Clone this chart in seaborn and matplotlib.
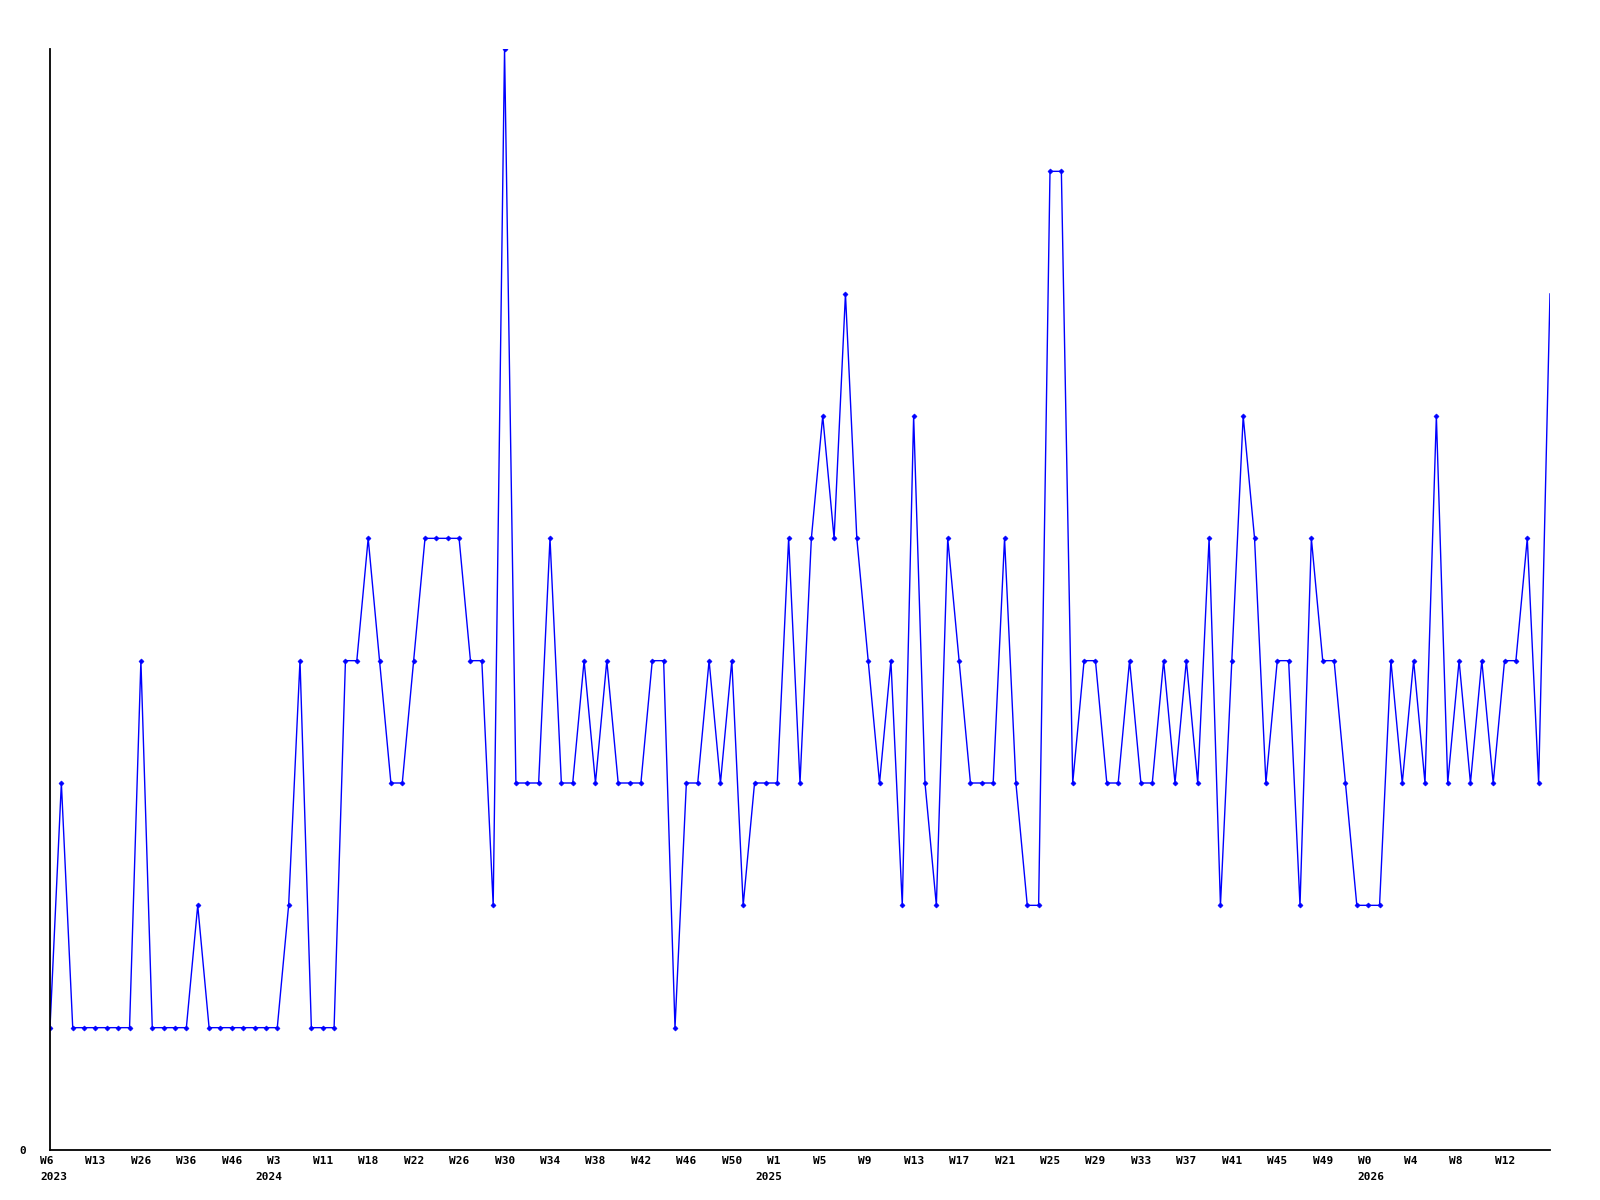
import matplotlib
matplotlib.use("Agg")
import matplotlib.pyplot as plt
import matplotlib.transforms as mtransforms
import seaborn as sns
import pandas as pd

# weekly counts, one per point (left to right)
values = [
    1, 3, 1, 1, 1, 1, 1, 1, 4, 1, 1, 1, 1, 2, 1, 1, 1, 1, 1, 1,
    1, 2, 4, 1, 1, 1, 4, 4, 5, 4, 3, 3, 4, 5, 5, 5, 5, 4, 4, 2,
    9, 3, 3, 3, 5, 3, 3, 4, 3, 4, 3, 3, 3, 4, 4, 1, 3, 3, 4, 3,
    4, 2, 3, 3, 3, 5, 3, 5, 6, 5, 7, 5, 4, 3, 4, 2, 6, 3, 2, 5,
    4, 3, 3, 3, 5, 3, 2, 2, 8, 8, 3, 4, 4, 3, 3, 4, 3, 3, 4, 3,
    4, 3, 5, 2, 4, 6, 5, 3, 4, 4, 2, 5, 4, 4, 3, 2, 2, 2, 4, 3,
    4, 3, 6, 3, 4, 3, 4, 3, 4, 4, 5, 3, 7,
]

tick_labels = [
    "W6", "W13", "W26", "W36", "W46", "W3", "W11", "W18", "W22", "W26",
    "W30", "W34", "W38", "W42", "W46", "W50", "W1", "W5", "W9", "W13",
    "W17", "W21", "W25", "W29", "W33", "W37", "W41", "W45", "W49", "W0",
    "W4", "W8", "W12",
]
tick_step = 4

year_labels = ["2023", "2024", "2025", "2026"]
year_positions = [0, 20, 64, 116]
year_offsets_px = [-10, -22, -22, -11]

sns.set_style("white")
plt.rcParams["font.family"] = ["DejaVu Sans Mono", "DejaVu Sans"]

W, H = 1600, 1200
fig = plt.figure(figsize=(16, 12), dpi=100)
ax = fig.add_axes([50 / W, 1 - 1150 / H, 1500 / W, (1150 - 49) / H])

df = pd.DataFrame({"idx": list(range(len(values))), "count": values})
sns.lineplot(
    data=df, x="idx", y="count", ax=ax, color="#0000ff", linewidth=1.0,
    marker="D", markersize=2.6, markeredgewidth=0.4, markeredgecolor="#0000ff",
    markevery=list(range(len(values) - 1)),
)

ax.set_xlim(0, len(values) - 1)
ax.set_ylim(0, 9)
ax.set_xlabel("")
ax.set_ylabel("")

for s in ["top", "right"]:
    ax.spines[s].set_visible(False)
for s in ["left", "bottom"]:
    ax.spines[s].set_color("black")
    ax.spines[s].set_linewidth(1.3)

tick_pos = list(range(0, tick_step * len(tick_labels), tick_step))
ax.set_xticks(tick_pos)
ax.set_xticklabels(tick_labels, fontsize=8, fontweight="bold", color="black")
ax.set_yticks([0])
ax.set_yticklabels(["0"], fontsize=8, fontweight="bold", color="black")
ax.tick_params(axis="x", length=0, pad=4.5)
ax.tick_params(axis="y", length=0, pad=17)

shift = mtransforms.ScaledTranslation(-10 / 100, 0, fig.dpi_scale_trans)
for lab in ax.get_xticklabels():
    lab.set_ha("left")
    lab.set_transform(lab.get_transform() + shift)

blend = mtransforms.blended_transform_factory(ax.transData, ax.transAxes)
for yl, yp, off in zip(year_labels, year_positions, year_offsets_px):
    tr = blend + mtransforms.ScaledTranslation(off / 100, -22 / 100, fig.dpi_scale_trans)
    ax.text(yp, 0, yl, transform=tr, ha="left", va="top", fontsize=8,
            fontweight="bold", color="black")

ax.grid(False)
fig.savefig("out.png", dpi=100, facecolor="white")
